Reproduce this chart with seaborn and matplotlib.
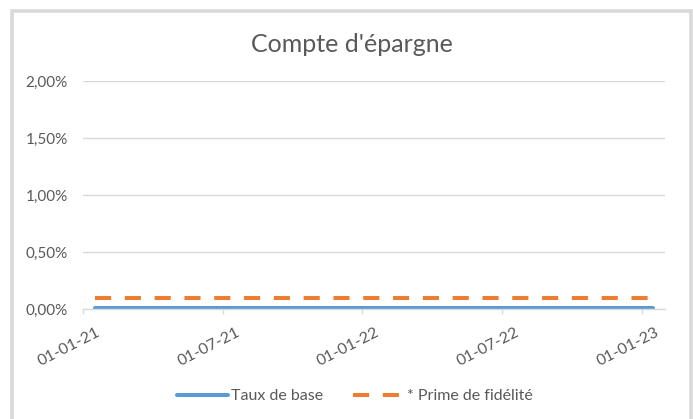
import matplotlib
matplotlib.use("Agg")
import matplotlib.pyplot as plt
import matplotlib.patches as mpatches
import matplotlib.transforms as mtransforms
from matplotlib.ticker import FuncFormatter, FixedLocator
import seaborn as sns
import pandas as pd

# Monthly observations of the savings account rates (in %)
months = pd.date_range("2021-01-01", "2023-01-01", freq="MS")
taux_de_base = [0.01] * len(months)
prime_fidelite = [0.10] * len(months)

series_names = ["Taux de base", "* Prime de fidélité"]
tick_dates = ["2021-01-01", "2021-07-01", "2022-01-01", "2022-07-01", "2023-01-01"]
tick_labels = ["01-01-21", "01-07-21", "01-01-22", "01-07-22", "01-01-23"]
y_ticks = [0.0, 0.5, 1.0, 1.5, 2.0]

sns.set_theme(style="white")
plt.rcParams["font.family"] = ["Lato", "DejaVu Sans"]

GREY_TEXT = "#595959"
GRID = "#d9d9d9"
BLUE = "#5b9bd5"
ORANGE = "#ed7d31"

start = months[0]


def month_index(d):
    d = pd.Timestamp(d)
    return (d.year - start.year) * 12 + (d.month - start.month)


# points sit in the middle of each monthly slot
x_pos = [month_index(d) + 0.5 for d in months]

df = pd.DataFrame({
    "x": x_pos * 2,
    "taux": taux_de_base + prime_fidelite,
    "serie": [series_names[0]] * len(months) + [series_names[1]] * len(months),
})

fig = plt.figure(figsize=(6.93, 4.19), dpi=100)
fig.patch.set_facecolor("white")

# chart-area frame
frame = mpatches.Rectangle((12.5 / 693, -0.05), (691 - 12.5) / 693, 1.05 - 11 / 419,
                           transform=fig.transFigure, fill=False,
                           edgecolor="#d9d9d9", linewidth=2.6, zorder=0)
fig.patches.append(frame)

ax = fig.add_axes([83 / 693, 1 - 309 / 419, (665 - 83) / 693, (309 - 81) / 419])

sns.lineplot(data=df, x="x", y="taux", hue="serie", style="serie",
             palette=[BLUE, ORANGE], dashes=[(None, None), (4, 3.4)],
             linewidth=2.9, legend=False, ax=ax)
ax.lines[0].set_solid_capstyle("round")
ax.lines[1].set_dash_capstyle("butt")

ax.set_xlim(0, month_index("2023-02-01"))
ax.set_ylim(0, 2.0)

ax.yaxis.set_major_locator(FixedLocator(y_ticks))
ax.yaxis.set_major_formatter(FuncFormatter(lambda v, _: f"{v:.2f}%".replace(".", ",")))
ax.set_xticks([month_index(d) for d in tick_dates])
ax.set_xticklabels(tick_labels)

ax.grid(axis="y", color=GRID, linewidth=1.0)
ax.set_axisbelow(True)
for side in ["left", "right", "top"]:
    ax.spines[side].set_visible(False)
ax.spines["bottom"].set_color(GRID)
ax.spines["bottom"].set_linewidth(1.0)

ax.tick_params(axis="y", length=0, pad=11, labelsize=11, labelcolor=GREY_TEXT)
ax.tick_params(axis="x", length=3.5, width=1.0, color=GRID, direction="out",
               pad=0, labelsize=11.5, labelcolor=GREY_TEXT, bottom=True)
shift = mtransforms.ScaledTranslation(16 / 100, -18 / 100, fig.dpi_scale_trans)
for lab in ax.get_xticklabels():
    lab.set_rotation(27)
    lab.set_ha("right")
    lab.set_va("center")
    lab.set_rotation_mode("anchor")
    lab.set_transform(lab.get_transform() + shift)

ax.set_xlabel("")
ax.set_ylabel("")

fig.text(352 / 693, 1 - 44 / 419, "Compte d'épargne", ha="center", va="center",
         fontsize=18, color=GREY_TEXT)

handles = [
    plt.Line2D([], [], color=BLUE, linewidth=2.9, solid_capstyle="round"),
    plt.Line2D([], [], color=ORANGE, linewidth=2.9, linestyle=(0, (4, 3.4))),
]
leg = fig.legend(handles, series_names, loc="center", ncol=2,
                 bbox_to_anchor=(355 / 693, 1 - 396 / 419), frameon=False,
                 fontsize=11.5, handlelength=3.2, handletextpad=0.15,
                 columnspacing=1.9, labelcolor=GREY_TEXT)

fig.savefig("out.png", dpi=100, facecolor="white")
